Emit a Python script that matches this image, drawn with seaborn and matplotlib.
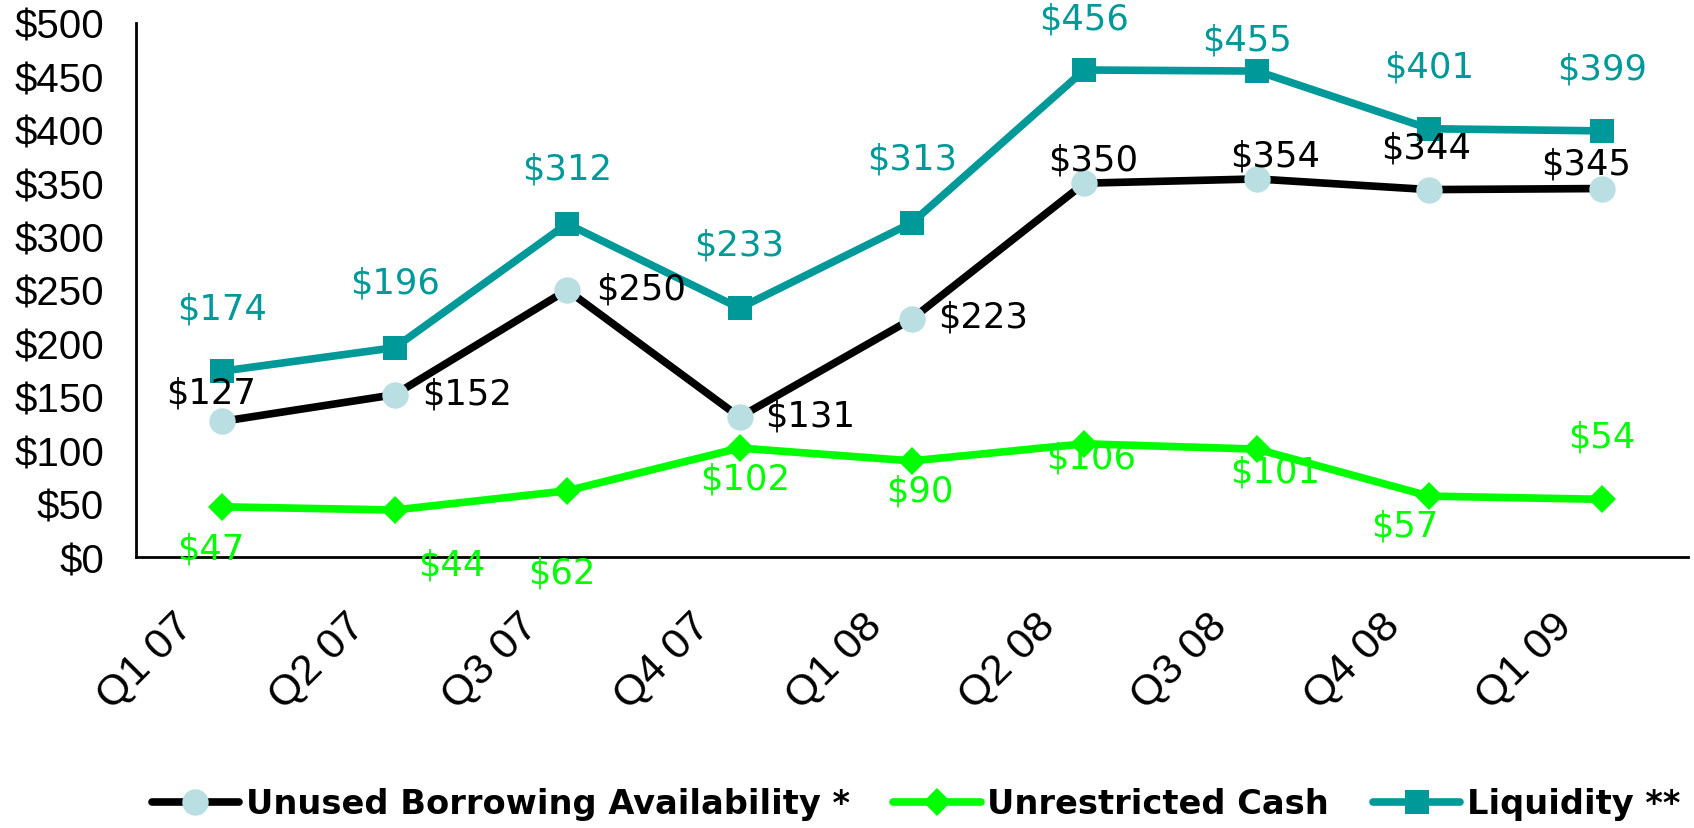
import matplotlib
matplotlib.use('Agg')
import matplotlib.pyplot as plt
import matplotlib.transforms as mtransforms
from matplotlib.ticker import FuncFormatter
import seaborn as sns
import pandas as pd
import numpy as np

quarters = ['Q1 07', 'Q2 07', 'Q3 07', 'Q4 07', 'Q1 08', 'Q2 08', 'Q3 08', 'Q4 08', 'Q1 09']
unused_borrowing = [127, 152, 250, 131, 223, 350, 354, 344, 345]
unrestricted_cash = [47, 44, 62, 102, 90, 106, 101, 57, 54]
liquidity = [174, 196, 312, 233, 313, 456, 455, 401, 399]
series_names = ['Unused Borrowing Availability *', 'Unrestricted Cash', 'Liquidity **']

# label offsets (points) -- hand placed like the original
unused_off = [(-8, 21), (52, 1), (53, 1), (51, 1), (51, 2), (6, 17), (13, 17), (-2, 30), (-11, 18)]
cash_off = [(-8, -30), (41, -39), (-4, -59), (4, -22), (6, -21), (5, -10), (13, -16), (-18, -21), (0, 45)]
liq_off = [(0, 45), (0, 47), (0, 40), (0, 46), (0, 46), (0, 37), (-7, 23), (0, 45), (0, 45)]

sns.set_style('white')
plt.rcParams['font.family'] = ['Liberation Sans', 'DejaVu Sans']

W, H = 1694, 829
fig = plt.figure(figsize=(W / 100, H / 100), dpi=100)
ax = fig.add_axes([136 / W, 1 - 558 / H, (1688 - 136) / W, (558 - 24) / H])

df = pd.DataFrame({'quarter': quarters, 'unused': unused_borrowing,
                   'cash': unrestricted_cash, 'liq': liquidity})

styles = [
    ('unused', 'black', 'o', '#B9DFE2', 19, unused_off),
    ('cash', '#00FF00', 'D', '#00FF00', 14.5, cash_off),
    ('liq', '#009999', 's', '#009999', 17.5, liq_off),
]

for (col, color, mk, mfc, ms, offs), name in zip(styles, series_names):
    sns.lineplot(data=df, x='quarter', y=col, ax=ax, sort=False, color=color, lw=5.5,
                 marker=mk, markersize=ms, markerfacecolor=mfc, markeredgecolor=mfc,
                 markeredgewidth=0, label=name, legend=False)
    for i, v in enumerate(df[col]):
        ax.annotate(f'${v}', (i, v), xytext=offs[i], textcoords='offset points',
                    ha='center', va='center', fontsize=25.5, color=color,
                    family='DejaVu Sans', zorder=10)

ax.set_xlim(-0.5, len(quarters) - 0.5)
ax.set_ylim(0, 500)
ax.set_yticks(np.arange(0, 501, 50))
ax.yaxis.set_major_formatter(FuncFormatter(lambda v, p: f'${v:.0f}'))
ax.set_xticks(range(len(quarters)))
ax.set_xticklabels(quarters)
ax.set_xticks(np.arange(-0.5, len(quarters), 1), minor=True)
ax.set_xlabel('')
ax.set_ylabel('')

ax.tick_params(axis='x', which='major', length=0, pad=0, labelsize=31, labelrotation=45)
ax.tick_params(axis='x', which='minor', length=10, width=2, direction='out', color='black')
ax.tick_params(axis='y', length=10, width=2, direction='out', color='black', pad=13, labelsize=29)
ax.tick_params(axis='both', labelcolor='black')

shift = mtransforms.ScaledTranslation(-36 / 100, -62 / 100, fig.dpi_scale_trans)
for lab in ax.get_xticklabels():
    lab.set_ha('right')
    lab.set_va('center')
    lab.set_rotation_mode('anchor')
    lab.set_transform(lab.get_transform() + shift)

for s in ['top', 'right']:
    ax.spines[s].set_visible(False)
for s in ['left', 'bottom']:
    ax.spines[s].set_color('black')
    ax.spines[s].set_linewidth(2)
ax.grid(False)

handles, labels = ax.get_legend_handles_labels()
fig.legend(handles, labels, loc='center', bbox_to_anchor=(916 / W, 1 - 805 / H), ncol=3,
           frameon=False, handlelength=2.6, handletextpad=0.2, columnspacing=1.3,
           labelcolor='black', prop={'family': 'DejaVu Sans', 'size': 24.2, 'weight': 'bold'})

fig.savefig('out.png', dpi=100)
